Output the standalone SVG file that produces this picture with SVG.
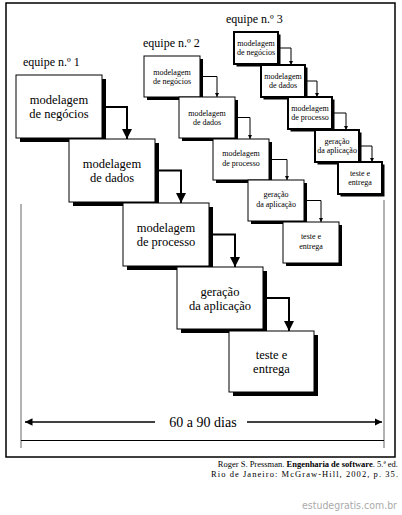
<svg xmlns="http://www.w3.org/2000/svg" width="402" height="515" viewBox="0 0 402 515" font-family="Liberation Serif, serif">
<defs>
<style>
text{font-family:Liberation Serif,serif}
.t{fill:#000;text-anchor:middle}
.t1{font-size:12.5px}
.t2{font-size:8px}
.lbl{font-size:12px;fill:#000}
.b1{fill:#fff;stroke:#000;stroke-width:1}
.b3{fill:#fff;stroke:#000;stroke-width:2}
.sh{fill:#000}
.c1{fill:none;stroke:#000;stroke-width:2}
.c2{fill:none;stroke:#000;stroke-width:1}
.wm{font-family:DejaVu Sans,sans-serif;font-size:10px;fill:#aaa}
</style>
<marker id="ah1" viewBox="0 0 10 10" refX="10" refY="5" markerWidth="5" markerHeight="5" markerUnits="strokeWidth" orient="auto"><path d="M0,0L10,5L0,10z" fill="#000"/></marker>
<marker id="ah2" viewBox="0 0 10 10" refX="10" refY="5" markerWidth="5" markerHeight="4" markerUnits="strokeWidth" orient="auto"><path d="M0,0L10,5L0,10z" fill="#000"/></marker>
</defs>
<rect width="402" height="515" fill="#fff"/>
<rect x="6" y="3" width="389" height="454" fill="none" stroke="#000" stroke-width="1.5"/>

<text class="lbl" x="23" y="66">equipe n.º 1</text>
<text class="lbl" x="143" y="47">equipe n.º 2</text>
<text class="lbl" x="226" y="23">equipe n.º 3</text>

<!-- team 3 -->
<g id="t3a"><rect class="sh" x="236.5" y="34.5" width="44" height="32"/><rect class="b3" x="234" y="32" width="44" height="32"/><text class="t t2" x="256" y="46">modelagem</text><text class="t t2" x="256" y="55">de negócios</text></g>
<g id="t3b"><rect class="sh" x="263.5" y="67.5" width="44" height="32"/><rect class="b3" x="261" y="65" width="44" height="32"/><text class="t t2" x="283" y="79">modelagem</text><text class="t t2" x="283" y="88">de dados</text></g>
<g id="t3c"><rect class="sh" x="290.5" y="99.5" width="44" height="32"/><rect class="b3" x="288" y="97" width="44" height="32"/><text class="t t2" x="310" y="111">modelagem</text><text class="t t2" x="310" y="120">de processo</text></g>
<g id="t3d"><rect class="sh" x="317.5" y="132.5" width="44" height="32"/><rect class="b3" x="315" y="130" width="44" height="32"/><text class="t t2" x="337" y="144">geração</text><text class="t t2" x="337" y="153">da aplicação</text></g>
<g id="t3e"><rect class="sh" x="340.5" y="164.5" width="44" height="32"/><rect class="b3" x="338" y="162" width="44" height="32"/><text class="t t2" x="360" y="176">teste e</text><text class="t t2" x="360" y="185">entrega</text></g>

<!-- team 2 -->
<g id="t2a"><rect class="sh" x="147" y="59" width="56" height="41"/><rect class="b1" x="144" y="56" width="56" height="41"/><text class="t t2" x="172" y="75">modelagem</text><text class="t t2" x="172" y="84">de negócios</text></g>
<g id="t2b"><rect class="sh" x="182" y="100" width="56" height="41"/><rect class="b1" x="179" y="97" width="56" height="41"/><text class="t t2" x="207" y="116">modelagem</text><text class="t t2" x="207" y="125">de dados</text></g>
<g id="t2c"><rect class="sh" x="216" y="142" width="56" height="41"/><rect class="b1" x="213" y="139" width="56" height="41"/><text class="t t2" x="241" y="156">modelagem</text><text class="t t2" x="241" y="166">de processo</text></g>
<g id="t2d"><rect class="sh" x="251" y="183" width="56" height="41"/><rect class="b1" x="248" y="180" width="56" height="41"/><text class="t t2" x="276" y="197">geração</text><text class="t t2" x="276" y="207">da aplicação</text></g>
<g id="t2e"><rect class="sh" x="286" y="225" width="56" height="41"/><rect class="b1" x="283" y="222" width="56" height="41"/><text class="t t2" x="311" y="239">teste e</text><text class="t t2" x="311" y="249">entrega</text></g>

<!-- team 1 -->
<g id="t1a"><rect class="sh" x="20" y="79" width="86" height="63"/><rect class="b1" x="16" y="75" width="86" height="63"/><text class="t t1" x="59" y="104">modelagem</text><text class="t t1" x="59" y="118">de negócios</text></g>
<g id="t1b"><rect class="sh" x="73" y="143" width="86" height="63"/><rect class="b1" x="69" y="139" width="86" height="63"/><text class="t t1" x="112" y="168">modelagem</text><text class="t t1" x="112" y="182">de dados</text></g>
<g id="t1c"><rect class="sh" x="127" y="207" width="86" height="63"/><rect class="b1" x="123" y="203" width="86" height="63"/><text class="t t1" x="166" y="232">modelagem</text><text class="t t1" x="166" y="246">de processo</text></g>
<g id="t1d"><rect class="sh" x="181" y="271" width="86" height="62"/><rect class="b1" x="177" y="267" width="86" height="62"/><text class="t t1" x="220" y="296">geração</text><text class="t t1" x="220" y="310">da aplicação</text></g>
<g id="t1e"><rect class="sh" x="233" y="335" width="85" height="61"/><rect class="b1" x="229" y="331" width="85" height="61"/><text class="t t1" x="271.5" y="359">teste e</text><text class="t t1" x="271.5" y="373">entrega</text></g>

<g id="connectors">
<path class="c1" d="M102,107H127V139" marker-end="url(#ah1)"/>
<path class="c1" d="M155,170.5H181V203" marker-end="url(#ah1)"/>
<path class="c1" d="M209,234.5H235V267" marker-end="url(#ah1)"/>
<path class="c1" d="M263,298H289V331" marker-end="url(#ah1)"/>

<path class="c2" d="M200,76.5H217V97" marker-end="url(#ah2)"/>
<path class="c2" d="M235,117.5H250V139" marker-end="url(#ah2)"/>
<path class="c2" d="M269,159.5H287V180" marker-end="url(#ah2)"/>
<path class="c2" d="M304,200.5H321V222" marker-end="url(#ah2)"/>

<path class="c2" d="M279,48H291V65" marker-end="url(#ah2)"/>
<path class="c2" d="M306,81H317V97" marker-end="url(#ah2)"/>
<path class="c2" d="M333,113H346V130" marker-end="url(#ah2)"/>
<path class="c2" d="M360,146H372V162" marker-end="url(#ah2)"/>

<line x1="21" y1="204" x2="21" y2="448" stroke="#999" stroke-width="1.5"/>
<line x1="384" y1="200" x2="384" y2="448" stroke="#999" stroke-width="1.5"/>
<line x1="21" y1="440.5" x2="384" y2="440.5" stroke="#000" stroke-width="1"/>
<line x1="155" y1="422" x2="25" y2="422" stroke="#000" stroke-width="1.5" marker-end="url(#ah1)"/>
<line x1="247" y1="422" x2="382" y2="422" stroke="#000" stroke-width="1.5" marker-end="url(#ah1)"/>
</g>

<text class="t" x="203" y="427" font-size="14">60 a 90 dias</text>

<text font-size="8.5" x="398" y="467" text-anchor="end">Roger S. Pressman. <tspan font-weight="bold">Engenharia de software</tspan>. 5.ª ed.</text>
<text font-size="8.5" x="211" y="477" textLength="187" lengthAdjust="spacing">Rio de Janeiro: McGraw-Hill, 2002, p. 35.</text>

<text class="wm" x="302" y="509" textLength="95" lengthAdjust="spacingAndGlyphs">estudegratis.com.br</text>
</svg>
